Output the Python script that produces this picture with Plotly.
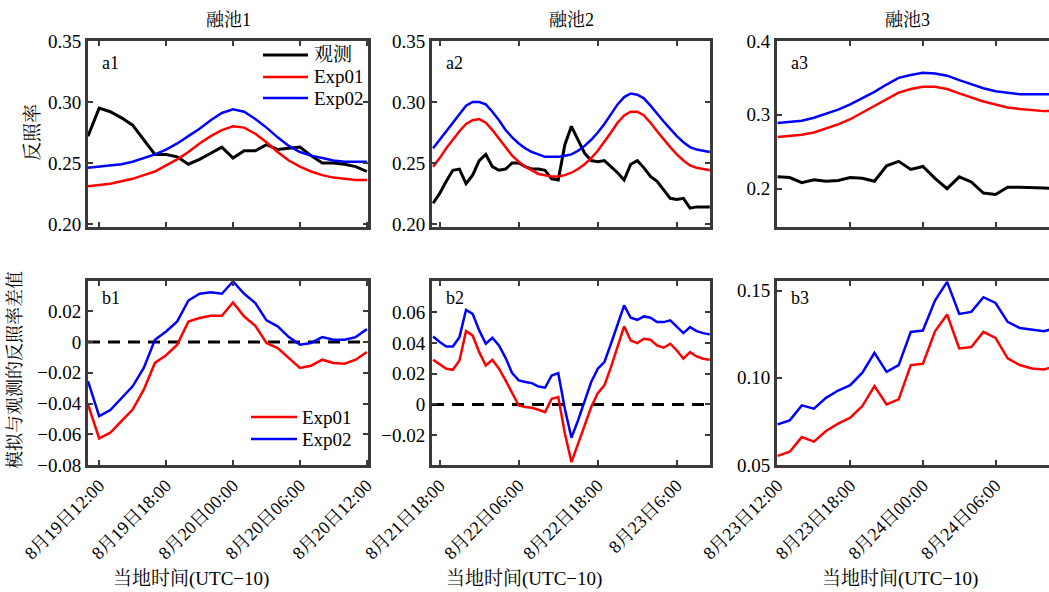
import pandas as pd
import plotly.graph_objects as go

# ---------------- data (hourly) ----------------
# Pond 1: 2018-08-19 11:00 .. 2018-08-20 12:00
obs_1 = [0.272, 0.295, 0.292, 0.287, 0.281, 0.269, 0.257, 0.257, 0.255, 0.249, 0.253, 0.258, 0.263,
         0.254, 0.260, 0.260, 0.265, 0.261, 0.262, 0.263, 0.256, 0.250, 0.250, 0.249, 0.247, 0.243]
exp01_1 = [0.231, 0.232, 0.233, 0.235, 0.237, 0.240, 0.243, 0.248, 0.253, 0.259, 0.266, 0.272, 0.277,
           0.280, 0.279, 0.274, 0.267, 0.259, 0.252, 0.247, 0.243, 0.240, 0.238, 0.237, 0.236, 0.236]
exp02_1 = [0.246, 0.247, 0.248, 0.249, 0.251, 0.254, 0.257, 0.261, 0.266, 0.272, 0.278, 0.285, 0.291,
           0.294, 0.292, 0.286, 0.279, 0.271, 0.264, 0.259, 0.256, 0.254, 0.252, 0.251, 0.251, 0.251]
diff01_1 = [-0.0406, -0.0627, -0.0590, -0.0515, -0.0439, -0.0310, -0.0136, -0.0086, -0.0017, 0.0134,
            0.0156, 0.0171, 0.0171, 0.0257, 0.0166, 0.0106, -0.0006, -0.0039, -0.0104, -0.0169,
            -0.0154, -0.0115, -0.0136, -0.0141, -0.0115, -0.0065]
diff02_1 = [-0.0255, -0.0482, -0.0443, -0.0363, -0.0288, -0.0169, 0.0015, 0.0069, 0.0134, 0.0270,
            0.0314, 0.0324, 0.0314, 0.0394, 0.0314, 0.0253, 0.0141, 0.0102, 0.0032, -0.0017,
            -0.0006, 0.0032, 0.0015, 0.0015, 0.0032, 0.0084]

# Pond 2: 2018-08-21 17:00 .. 2018-08-23 11:00
obs_2 = [0.217, 0.225, 0.235, 0.244, 0.245, 0.233, 0.240, 0.252, 0.257, 0.247, 0.244, 0.245, 0.250,
         0.250, 0.247, 0.245, 0.245, 0.244, 0.237, 0.236, 0.265, 0.280, 0.269, 0.258, 0.252, 0.251,
         0.252, 0.247, 0.242, 0.236, 0.249, 0.252, 0.246, 0.239, 0.235, 0.228, 0.221, 0.220, 0.221,
         0.213, 0.214, 0.214, 0.214]
exp01_2 = [0.247, 0.254, 0.262, 0.269, 0.276, 0.282, 0.285, 0.286, 0.283, 0.277, 0.270, 0.262, 0.256,
           0.251, 0.247, 0.244, 0.241, 0.240, 0.239, 0.239, 0.240, 0.242, 0.245, 0.249, 0.254, 0.260,
           0.267, 0.275, 0.283, 0.289, 0.292, 0.292, 0.289, 0.283, 0.276, 0.269, 0.263, 0.257, 0.252,
           0.248, 0.246, 0.245, 0.244]
exp02_2 = [0.262, 0.269, 0.277, 0.284, 0.291, 0.297, 0.300, 0.300, 0.298, 0.292, 0.285, 0.277, 0.271,
           0.266, 0.262, 0.259, 0.257, 0.255, 0.255, 0.255, 0.256, 0.257, 0.260, 0.264, 0.269, 0.275,
           0.282, 0.290, 0.298, 0.304, 0.307, 0.306, 0.303, 0.297, 0.290, 0.284, 0.278, 0.272, 0.267,
           0.263, 0.261, 0.260, 0.259]
diff01_2 = [0.0291, 0.0261, 0.0233, 0.0226, 0.0287, 0.0478, 0.0450, 0.0341, 0.0254, 0.0291,
            0.0233, 0.0157, 0.0070, -0.0007, -0.0017, -0.0022, -0.0035, -0.0050, 0.0037, 0.0048,
            -0.0190, -0.0376, -0.0257, -0.0137, -0.0017, 0.0074, 0.0124, 0.0243, 0.0374, 0.0509,
            0.0417, 0.0400, 0.0428, 0.0422, 0.0385, 0.0370, 0.0396, 0.0352, 0.0298, 0.0341,
            0.0313, 0.0298, 0.0291]
diff02_2 = [0.0443, 0.0407, 0.0378, 0.0378, 0.0439, 0.0617, 0.0591, 0.0483, 0.0396, 0.0435,
            0.0385, 0.0304, 0.0204, 0.0157, 0.0146, 0.0139, 0.0117, 0.0109, 0.0189, 0.0204,
            -0.0028, -0.0217, -0.0104, 0.0026, 0.0146, 0.0233, 0.0276, 0.0396, 0.0526, 0.0646,
            0.0565, 0.0552, 0.0574, 0.0565, 0.0537, 0.0537, 0.0548, 0.0504, 0.0465, 0.0504,
            0.0478, 0.0465, 0.0457]

# Pond 3: 2018-08-23 12:00 .. 2018-08-24 11:00
obs_3 = [0.216, 0.215, 0.208, 0.212, 0.210, 0.211, 0.215, 0.214, 0.210, 0.231, 0.237, 0.226,
         0.230, 0.214, 0.200, 0.216, 0.209, 0.194, 0.192, 0.202, 0.202, 0.202, 0.201, 0.200]
exp01_3 = [0.270, 0.271, 0.273, 0.276, 0.281, 0.287, 0.294, 0.303, 0.312, 0.321, 0.330, 0.335,
           0.338, 0.338, 0.335, 0.329, 0.323, 0.318, 0.314, 0.310, 0.308, 0.306, 0.305, 0.305]
exp02_3 = [0.289, 0.290, 0.292, 0.296, 0.301, 0.307, 0.314, 0.322, 0.331, 0.341, 0.350, 0.354,
           0.357, 0.356, 0.353, 0.347, 0.341, 0.336, 0.332, 0.330, 0.328, 0.328, 0.328, 0.328]
diff01_3 = [0.0552, 0.0576, 0.0660, 0.0634, 0.0695, 0.0737, 0.0771, 0.0838, 0.0952, 0.0847,
            0.0876, 0.1073, 0.1080, 0.1267, 0.1363, 0.1168, 0.1176, 0.1263, 0.1229, 0.1111,
            0.1073, 0.1053, 0.1048, 0.1067]
diff02_3 = [0.0733, 0.0756, 0.0842, 0.0823, 0.0885, 0.0927, 0.0958, 0.1029, 0.1143, 0.1034,
            0.1073, 0.1263, 0.1271, 0.1443, 0.1550, 0.1366, 0.1378, 0.1462, 0.1429, 0.1321,
            0.1286, 0.1277, 0.1267, 0.1286]

start_times = ["2018-08-19 11:00", "2018-08-21 17:00", "2018-08-23 12:00"]

pond_titles = ["融池1", "融池2", "融池3"]
top_labels = ["a1", "a2", "a3"]
bottom_labels = ["b1", "b2", "b3"]
series_names = ["观测", "Exp01", "Exp02"]

x_tickvals = [
    ["2018-08-19 12:00", "2018-08-19 18:00", "2018-08-20 00:00", "2018-08-20 06:00", "2018-08-20 12:00"],
    ["2018-08-21 18:00", "2018-08-22 06:00", "2018-08-22 18:00", "2018-08-23 06:00"],
    ["2018-08-23 12:00", "2018-08-23 18:00", "2018-08-24 00:00", "2018-08-24 06:00"],
]
x_ticktext = [
    ["8月19日12:00", "8月19日18:00", "8月20日00:00", "8月20日06:00", "8月20日12:00"],
    ["8月21日18:00", "8月22日06:00", "8月22日18:00", "8月23日6:00"],
    ["8月23日12:00", "8月23日18:00", "8月24日00:00", "8月24日06:00"],
]
x_ranges = [
    ["2018-08-19 11:00", "2018-08-20 12:06"],
    ["2018-08-21 16:50", "2018-08-23 11:02"],
    ["2018-08-23 11:57", "2018-08-24 10:25"],
]

top_ranges = [[0.1975, 0.35], [0.1975, 0.35], [0.148, 0.4]]
top_tickvals = [[0.20, 0.25, 0.30, 0.35], [0.20, 0.25, 0.30, 0.35], [0.2, 0.3, 0.4]]
top_ticktext = [["0.20", "0.25", "0.30", "0.35"], ["0.20", "0.25", "0.30", "0.35"], ["0.2", "0.3", "0.4"]]

bottom_ranges = [[-0.08, 0.0397], [-0.0395, 0.0805], [0.05, 0.1555]]
bottom_tickvals = [[-0.08, -0.06, -0.04, -0.02, 0, 0.02],
                   [-0.04, -0.02, 0, 0.02, 0.04, 0.06],
                   [0.05, 0.10, 0.15]]
bottom_ticktext = [["−0.08", "−0.06", "−0.04", "−0.02", "0", "0.02"],
                   ["−0.04", "−0.02", "0", "0.02", "0.04", "0.06"],
                   ["0.05", "0.10", "0.15"]]
zero_level = 0

# ---------------- styling / layout ----------------
W, H = 1049, 592
FONT = "Liberation Serif, 'Noto Serif CJK SC', 'Noto Sans CJK SC', serif"
FRAME = "#3a3a3a"
COLORS = ["#000000", "#ff0000", "#0000ff"]
WIDTHS = [3, 2.5, 2.5]

x_domains_px = [(88, 368), (432, 710), (777, 1049)]
top_px = (41, 227)
bot_px = (281, 465)

def xd(p):
    return [p[0] / W, p[1] / W]

def yd(p):
    return [1 - p[1] / H, 1 - p[0] / H]

obs = [obs_1, obs_2, obs_3]
exp01 = [exp01_1, exp01_2, exp01_3]
exp02 = [exp02_1, exp02_2, exp02_3]
diff01 = [diff01_1, diff01_2, diff01_3]
diff02 = [diff02_1, diff02_2, diff02_3]

fig = go.Figure()
layout = dict(
    width=W, height=H, margin=dict(l=0, r=0, t=0, b=0, pad=0, autoexpand=False),
    paper_bgcolor="white", plot_bgcolor="white",
    font=dict(family=FONT, size=18, color="black"),
    showlegend=False,
)

annotations = []
shapes = []

for i in range(3):
    t = pd.date_range(start_times[i], periods=len(obs[i]), freq="h")
    top_ax = i + 1
    bot_ax = i + 4
    tx = "x" if top_ax == 1 else f"x{top_ax}"
    ty = "y" if top_ax == 1 else f"y{top_ax}"
    bx = f"x{bot_ax}"
    by = f"y{bot_ax}"

    # top row: albedo
    for k, ser in enumerate([obs[i], exp01[i], exp02[i]]):
        fig.add_trace(go.Scatter(
            x=t, y=ser, mode="lines", name=series_names[k],
            line=dict(color=COLORS[k], width=WIDTHS[k]),
            xaxis=tx, yaxis=ty,
        ))
    # bottom row: differences
    for k, ser in enumerate([diff01[i], diff02[i]]):
        fig.add_trace(go.Scatter(
            x=t, y=ser, mode="lines", name=series_names[k + 1],
            line=dict(color=COLORS[k + 1], width=WIDTHS[k + 1]),
            xaxis=bx, yaxis=by,
        ))

    common_x = dict(
        domain=xd(x_domains_px[i]), range=x_ranges[i], type="date",
        tickmode="array", tickvals=x_tickvals[i], ticktext=x_ticktext[i],
        showline=True, linecolor=FRAME, linewidth=3, mirror="ticks",
        ticks="inside", ticklen=5, tickwidth=2, tickcolor=FRAME,
        showgrid=False, zeroline=False, automargin=False,
    )
    layout["xaxis" if top_ax == 1 else f"xaxis{top_ax}"] = dict(
        common_x, anchor=ty, showticklabels=False)
    layout[f"xaxis{bot_ax}"] = dict(
        common_x, anchor=by, showticklabels=True, tickangle=-45,
        tickfont=dict(family=FONT, size=18, color="black"))

    common_y = dict(
        showline=True, linecolor=FRAME, linewidth=3,
        mirror=("ticks" if i < 2 else False),
        ticks="inside", ticklen=5, tickwidth=2, tickcolor=FRAME,
        showgrid=False, zeroline=False, tickmode="array", automargin=False,
        tickfont=dict(family=FONT, size=19, color="black"),
    )
    layout["yaxis" if top_ax == 1 else f"yaxis{top_ax}"] = dict(
        common_y, domain=yd(top_px), anchor=tx, range=top_ranges[i],
        tickvals=top_tickvals[i], ticktext=top_ticktext[i])
    layout[f"yaxis{bot_ax}"] = dict(
        common_y, domain=yd(bot_px), anchor=bx, range=bottom_ranges[i],
        tickvals=bottom_tickvals[i], ticktext=bottom_ticktext[i])

    # zero reference line in b1 / b2
    if i < 2:
        shapes.append(dict(type="line", xref=f"{bx} domain", x0=0, x1=1,
                           yref=by, y0=zero_level, y1=zero_level,
                           line=dict(color="black", width=3, dash="12px,8px"), layer="below"))

    # panel titles
    title_x = [228, 571, 907][i]
    annotations.append(dict(text=pond_titles[i], x=title_x / W, y=1 - 20 / H, xref="paper", yref="paper",
                            showarrow=False, font=dict(size=18, family=FONT), xanchor="center", yanchor="middle"))
    # panel labels
    lx = x_domains_px[i][0] + 12
    annotations.append(dict(text=top_labels[i], x=lx / W, y=1 - 63 / H, xref="paper", yref="paper",
                            showarrow=False, font=dict(size=18, family=FONT), xanchor="left", yanchor="middle"))
    annotations.append(dict(text=bottom_labels[i], x=lx / W, y=1 - 298 / H, xref="paper", yref="paper",
                            showarrow=False, font=dict(size=18, family=FONT), xanchor="left", yanchor="middle"))
    # x axis titles
    xt = [191, 524, 900][i]
    annotations.append(dict(text="当地时间(UTC−10)", x=xt / W, y=1 - 579 / H, xref="paper", yref="paper",
                            showarrow=False, font=dict(size=19, family=FONT), xanchor="center", yanchor="middle"))

# y axis titles
annotations.append(dict(text="反照率", x=32 / W, y=1 - 133 / H, xref="paper", yref="paper", textangle=-90,
                        showarrow=False, font=dict(size=19, family=FONT), xanchor="center", yanchor="middle"))
annotations.append(dict(text="模拟与观测的反照率差值", x=15 / W, y=1 - 370 / H, xref="paper", yref="paper",
                        textangle=-90, showarrow=False, font=dict(size=18, family=FONT),
                        xanchor="center", yanchor="middle"))

# legends (a1: three series; b1: two experiments)
legend_specs = [
    dict(names=series_names, colors=COLORS, widths=WIDTHS, x0=263, x1=308, tx=312, rows=[55, 77, 98]),
    dict(names=series_names[1:], colors=COLORS[1:], widths=WIDTHS[1:], x0=251, x1=297, tx=300, rows=[417, 439]),
]
for spec in legend_specs:
    for name, col, lw, yr in zip(spec["names"], spec["colors"], spec["widths"], spec["rows"]):
        shapes.append(dict(type="line", xref="paper", yref="paper",
                           x0=spec["x0"] / W, x1=spec["x1"] / W, y0=1 - yr / H, y1=1 - yr / H,
                           line=dict(color=col, width=lw)))
        annotations.append(dict(text=name, x=spec["tx"] / W, y=1 - yr / H, xref="paper", yref="paper",
                                showarrow=False, font=dict(size=19, family=FONT),
                                xanchor="left", yanchor="middle"))

layout["annotations"] = annotations
layout["shapes"] = shapes

fig.update_layout(**layout)
fig.write_html("out.html")
